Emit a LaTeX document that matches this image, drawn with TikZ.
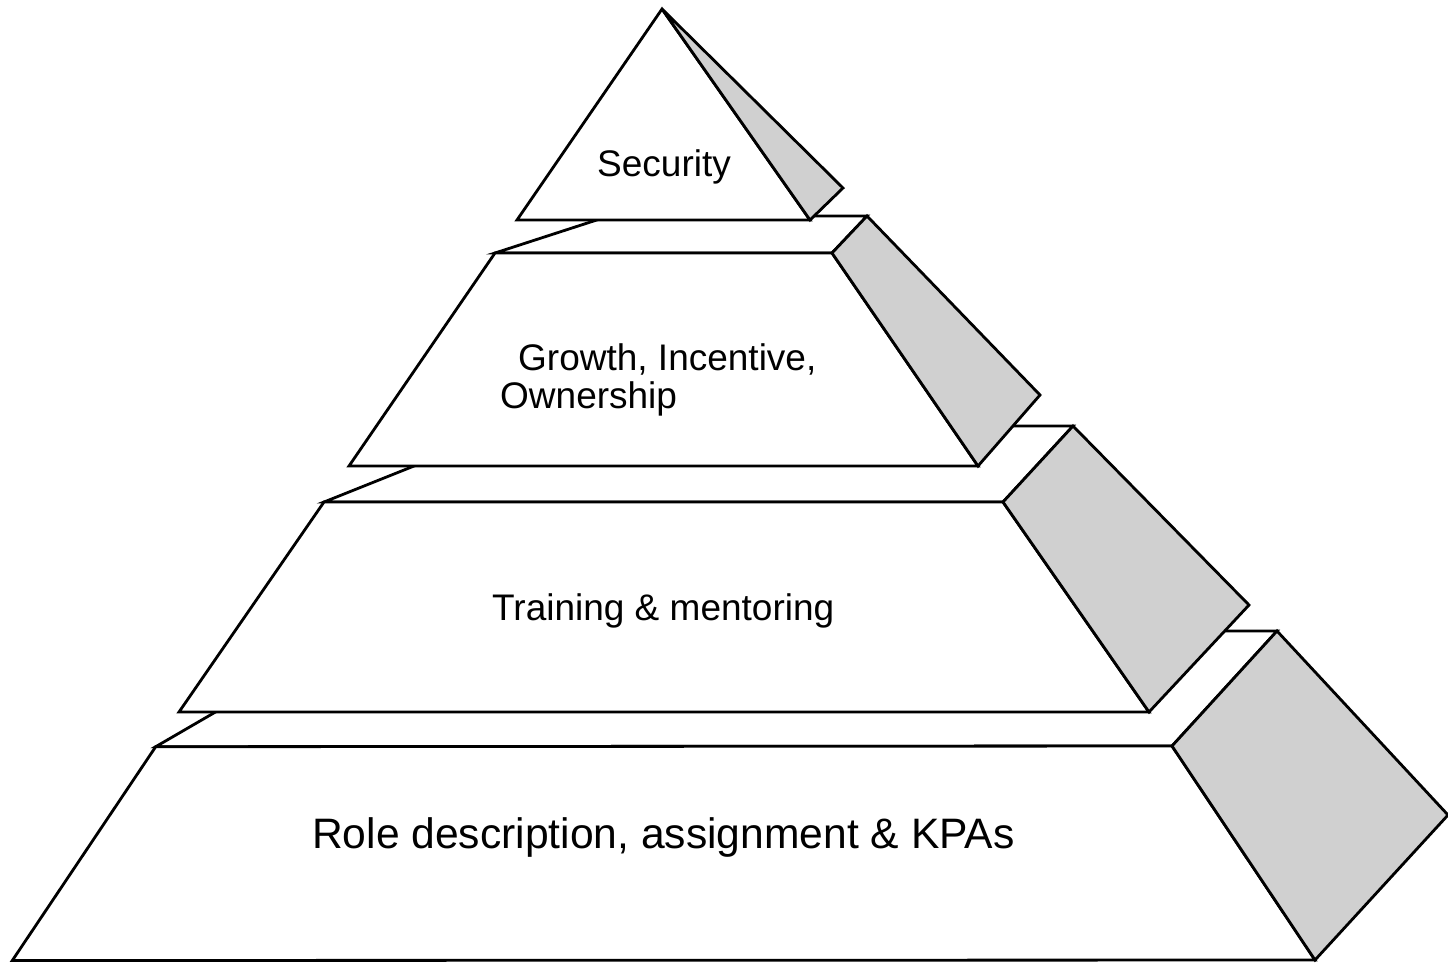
\documentclass[tikz,border=0pt]{standalone}
\usepackage{fontspec}
\setmainfont{Liberation Sans}
\definecolor{sidegray}{RGB}{208,208,208}
\begin{document}
\begin{tikzpicture}[x=1pt,y=-1pt,
  face/.style={draw=black,line width=2.8pt,line join=miter,fill=white},
  sideface/.style={draw=black,line width=2.8pt,line join=miter,fill=sidegray},
  lbl/.style={inner sep=0pt,anchor=base west,font=\fontsize{37}{39}\selectfont}]
\useasboundingbox (0,0) rectangle (1448,962);
% ---- tier 4 (bottom)
\draw[face] (155.7,746.7) -- (355,631) -- (1277,631) -- (1172,746) -- cycle;
\draw[face] (155.7,746.7) -- (1172,746) -- (1315,960) -- (12.3,960.5) -- cycle;
\draw[sideface] (1172,746) -- (1277,631) -- (1448,815) -- (1315,960) -- cycle;
% ---- tier 3
\draw[face] (324,502) -- (514,426) -- (1073,426) -- (1003,502) -- cycle;
\draw[face] (324,502) -- (1003,502) -- (1149,712) -- (179,712) -- cycle;
\draw[sideface] (1003,502) -- (1073,426) -- (1249,605) -- (1149,712) -- cycle;
% ---- tier 2
\draw[face] (495,253) -- (609,216) -- (867,216) -- (832,253) -- cycle;
\draw[face] (495,253) -- (832,253) -- (978,466) -- (349,466) -- cycle;
\draw[sideface] (832,253) -- (867,216) -- (1040,395) -- (978,466) -- cycle;
% ---- top triangle
\draw[face] (662,9) -- (810,220) -- (517,220) -- cycle;
\draw[sideface] (662,9) -- (843,188) -- (810,220) -- cycle;
% ---- labels
\node[lbl] (security) at (597,176) {Security};
\node[lbl] (growth) at (518,370) {Growth, Incentive,};
\node[lbl] (owner) at (500,408) {Ownership};
\node[lbl] (training) at (492,620) {Training \& mentoring};
\node[lbl,font=\fontsize{42.6}{44}\selectfont] (role) at (312,848) {Role description, assignment \& KPAs};
\end{tikzpicture}
\end{document}
